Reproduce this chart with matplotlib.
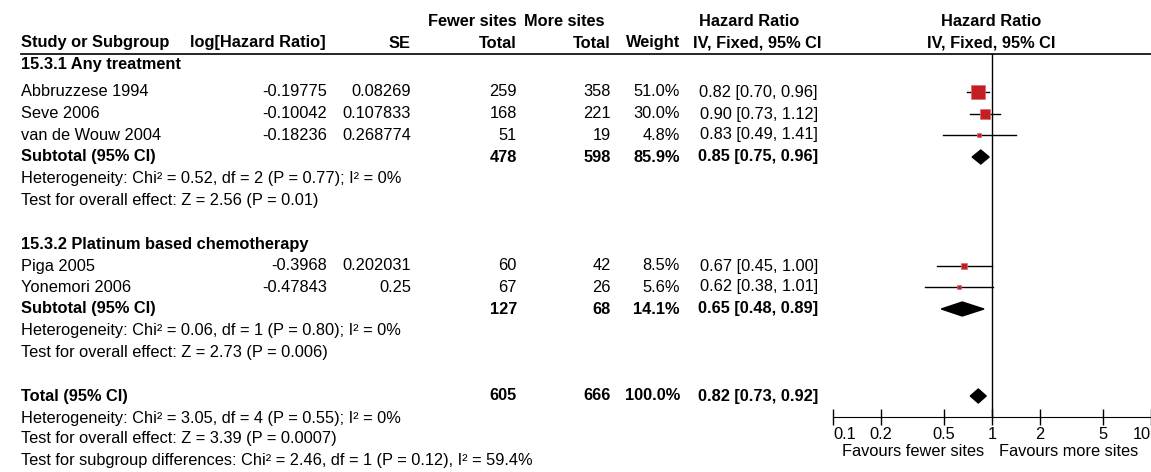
import matplotlib.pyplot as plt
from matplotlib.ticker import NullLocator
import numpy as np

# study level data (first three = 15.3.1, last two = 15.3.2)
studies = ["Abbruzzese 1994", "Seve 2006", "van de Wouw 2004", "Piga 2005", "Yonemori 2006"]
log_hr = [-0.19775, -0.10042, -0.18236, -0.3968, -0.47843]
se = [0.08269, 0.107833, 0.268774, 0.202031, 0.25]
n_fewer = [259, 168, 51, 60, 67]
n_more = [358, 221, 19, 42, 26]
weight = [51.0, 30.0, 4.8, 8.5, 5.6]
hr = [0.82, 0.90, 0.83, 0.67, 0.62]
ci_lo = [0.70, 0.73, 0.49, 0.45, 0.38]
ci_hi = [0.96, 1.12, 1.41, 1.00, 1.01]

# subgroup + overall pooled results
groups = ["15.3.1 Any treatment", "15.3.2 Platinum based chemotherapy"]
sub_fewer = [478, 127]
sub_more = [598, 68]
sub_weight = [85.9, 14.1]
sub_hr = [0.85, 0.65]
sub_lo = [0.75, 0.48]
sub_hi = [0.96, 0.89]
sub_het = ["Heterogeneity: Chi\u00b2 = 0.52, df = 2 (P = 0.77); I\u00b2 = 0%",
           "Heterogeneity: Chi\u00b2 = 0.06, df = 1 (P = 0.80); I\u00b2 = 0%"]
sub_test = ["Test for overall effect: Z = 2.56 (P = 0.01)",
            "Test for overall effect: Z = 2.73 (P = 0.006)"]

tot_fewer, tot_more, tot_weight = 605, 666, 100.0
tot_hr, tot_lo, tot_hi = 0.82, 0.73, 0.92
tot_notes = ["Heterogeneity: Chi\u00b2 = 3.05, df = 4 (P = 0.55); I\u00b2 = 0%",
             "Test for overall effect: Z = 3.39 (P = 0.0007)",
             "Test for subgroup differences: Chi\u00b2 = 2.46, df = 1 (P = 0.12), I\u00b2 = 59.4%"]

ticks = [0.1, 0.2, 0.5, 1, 2, 5, 10]
tick_labels = ["0.1", "0.2", "0.5", "1", "2", "5", "10"]

# layout (pixel rows / columns)
W, H = 1151, 472
group_y = [65, 244]
study_y = [92, 114, 135, 266, 287]
sub_y = [157, 309]
het_y = [179, 331]
test_y = [200, 352]
tot_y = 396
tot_note_y = [418, 439, 461]
axis_y = 417
FS = 11.8
red = "#c41e25"

plt.rcParams['font.family'] = ['Liberation Sans', 'DejaVu Sans']

fig = plt.figure(figsize=(W / 100, H / 100), dpi=100)
tx = fig.add_axes([0, 0, 1, 1])
tx.set_xlim(0, W)
tx.set_ylim(H, 0)
tx.axis("off")

fx = fig.add_axes([833 / W, 0, (W - 833) / W, 1])
fx.set_xscale("log")
fx.set_xlim(0.1, 10)
fx.set_ylim(H, 0)
fx.patch.set_alpha(0)


def row(y, name, lh, s, nf, nm, w, est, lo, hi, bold=False):
    fw = "bold" if bold else "normal"
    kw = dict(va="center", fontsize=FS, fontweight=fw)
    tx.text(21, y, name, ha="left", **kw)
    if lh is not None:
        tx.text(327, y, str(lh), ha="right", **kw)
        tx.text(411, y, str(s), ha="right", **kw)
    tx.text(517, y, str(nf), ha="right", **kw)
    tx.text(611, y, str(nm), ha="right", **kw)
    tx.text(680, y, f"{w:.1f}%", ha="right", **kw)
    tx.text(818, y, f"{est:.2f} [{lo:.2f}, {hi:.2f}]", ha="right", **kw)


# header
hb = dict(va="center", fontsize=FS, fontweight="bold")
tx.text(517, 22, "Fewer sites", ha="right", **hb)
tx.text(605, 22, "More sites", ha="right", **hb)
tx.text(749, 22, "Hazard Ratio", ha="center", **hb)
tx.text(991, 22, "Hazard Ratio", ha="center", **hb)
tx.text(21, 43, "Study or Subgroup", ha="left", **hb)
tx.text(190, 43, "log[Hazard Ratio]", ha="left", **hb)
tx.text(411, 43, "SE", ha="right", **hb)
tx.text(517, 43, "Total", ha="right", **hb)
tx.text(611, 43, "Total", ha="right", **hb)
tx.text(680, 43, "Weight", ha="right", **hb)
tx.text(757, 43, "IV, Fixed, 95% CI", ha="center", **hb)
tx.text(991, 43, "IV, Fixed, 95% CI", ha="center", **hb)
tx.plot([21, W], [54, 54], color="black", lw=1.2)

members = [[0, 1, 2], [3, 4]]
for g in range(2):
    tx.text(21, group_y[g], groups[g], ha="left", **hb)
    for i in members[g]:
        row(study_y[i], studies[i], log_hr[i], se[i], n_fewer[i], n_more[i],
            weight[i], hr[i], ci_lo[i], ci_hi[i])
        fx.plot([ci_lo[i], ci_hi[i]], [study_y[i]] * 2, color="black", lw=1)
        side = max(4, 14 * np.sqrt(weight[i] / 51.0))
        fx.plot(hr[i], study_y[i], "s", color=red, mec="#dd6a6e", mew=0.5,
                markersize=side * 0.72)
    row(sub_y[g], "Subtotal (95% CI)", None, None, sub_fewer[g], sub_more[g],
        sub_weight[g], sub_hr[g], sub_lo[g], sub_hi[g], bold=True)
    fx.fill([sub_lo[g], sub_hr[g], sub_hi[g], sub_hr[g]],
            [sub_y[g], sub_y[g] - 7, sub_y[g], sub_y[g] + 7], color="black")
    tx.text(21, het_y[g], sub_het[g], ha="left", va="center", fontsize=FS)
    tx.text(21, test_y[g], sub_test[g], ha="left", va="center", fontsize=FS)

row(tot_y, "Total (95% CI)", None, None, tot_fewer, tot_more, tot_weight,
    tot_hr, tot_lo, tot_hi, bold=True)
fx.fill([tot_lo, tot_hr, tot_hi, tot_hr], [tot_y, tot_y - 7, tot_y, tot_y + 7],
        color="black")
for y, t in zip(tot_note_y, tot_notes):
    tx.text(21, y, t, ha="left", va="center", fontsize=FS)

# null line + log axis
fx.plot([1, 1], [54, axis_y], color="black", lw=1)
for s in ["top", "left", "right"]:
    fx.spines[s].set_visible(False)
fx.spines["bottom"].set_position(("data", axis_y))
fx.set_xticks(ticks)
fx.set_xticklabels(tick_labels)
fx.xaxis.set_minor_locator(NullLocator())
fx.set_yticks([])
fx.tick_params(axis="x", direction="inout", length=12, width=1, pad=1,
               labelsize=FS)
labs = fx.get_xticklabels()
labs[0].set_ha("left")
labs[-1].set_ha("right")
tx.text(984, 451, "Favours fewer sites", ha="right", va="center", fontsize=FS)
tx.text(999, 451, "Favours more sites", ha="left", va="center", fontsize=FS)

fig.savefig("out.png", dpi=100)
